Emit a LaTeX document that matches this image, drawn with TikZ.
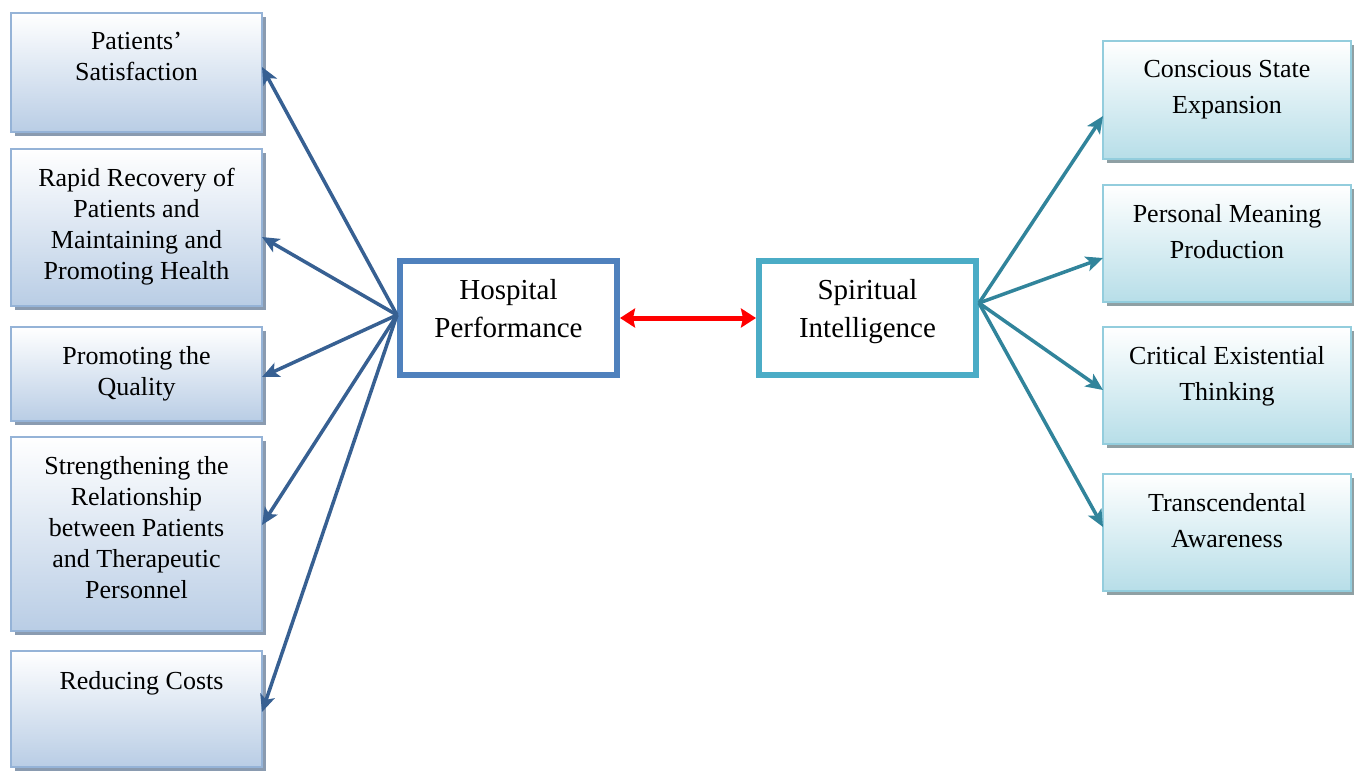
\documentclass[tikz,border=0pt]{standalone}
\usepackage{fontspec}
\setmainfont{Liberation Serif}
\usetikzlibrary{arrows.meta,shadows}
\definecolor{leftbot}{HTML}{B9CDE5}
\definecolor{leftbrd}{HTML}{95B3D7}
\definecolor{leftshd}{HTML}{8A9BB0}
\definecolor{rightbot}{HTML}{B7DEE8}
\definecolor{rightbrd}{HTML}{93CDDD}
\definecolor{rightshd}{HTML}{8FA0A4}
\definecolor{hospbrd}{HTML}{4F81BD}
\definecolor{spirbrd}{HTML}{4BACC6}
\definecolor{leftarr}{HTML}{376092}
\definecolor{rightarr}{HTML}{31849B}
\definecolor{redarr}{HTML}{FF0000}
\begin{document}
\begin{tikzpicture}[x=1pt,y=-1pt,
  lbox/.style={draw=leftbrd, line width=2.5pt, top color=white, bottom color=leftbot,
    minimum width=251pt, anchor=north west, inner sep=0pt, outer sep=0pt,
    drop shadow={shadow xshift=4pt, shadow yshift=-4pt, fill=leftshd, opacity=1}},
  rbox/.style={draw=rightbrd, line width=2.5pt, top color=white, bottom color=rightbot,
    minimum width=248pt, anchor=north west, inner sep=0pt, outer sep=0pt,
    drop shadow={shadow xshift=4pt, shadow yshift=-4pt, fill=rightshd, opacity=1}},
  cbox/.style={line width=6pt, fill=white, minimum width=217pt, minimum height=114pt,
    inner sep=0pt},
  ltxt/.style={font=\fontsize{26}{31}\selectfont, align=center, anchor=north, inner sep=0pt},
  rtxt/.style={font=\fontsize{26}{36}\selectfont, align=center, anchor=north, inner sep=0pt},
  ctxt/.style={font=\fontsize{29}{38}\selectfont, align=center, anchor=north, inner sep=0pt},
  larrow/.style={draw=leftarr, line width=3.5pt, -{Stealth[length=17pt,width=15pt,inset=4pt]}},
  rarrow/.style={draw=rightarr, line width=3.5pt, -{Stealth[length=17pt,width=15pt,inset=4pt]}},
]
\useasboundingbox[fill=white] (0,0) rectangle (1354,772);

% left boxes
\node[lbox, minimum height=119pt] (L1) at (11,13) {};
\node[lbox, minimum height=157pt] (L2) at (11,149) {};
\node[lbox, minimum height=94pt]  (L3) at (11,327) {};
\node[lbox, minimum height=194pt] (L4) at (11,437) {};
\node[lbox, minimum height=116pt] (L5) at (11,651) {};

\node[ltxt, yshift=-19pt] (T1) at (L1.north) {Patients’\\Satisfaction};
\node[ltxt, yshift=-19pt] (T2) at (L2.north) {Rapid Recovery of\\Patients and\\Maintaining and\\Promoting Health};
\node[ltxt, yshift=-19pt] (T3) at (L3.north) {Promoting the\\Quality};
\node[ltxt, yshift=-19pt] (T4) at (L4.north) {Strengthening the\\Relationship\\between Patients\\and Therapeutic\\Personnel};
\node[ltxt, yshift=-20pt, xshift=5pt] (T5) at (L5.north) {Reducing Costs};

% right boxes
\node[rbox, minimum height=118pt] (R1) at (1103,41) {};
\node[rbox, minimum height=117pt] (R2) at (1103,185) {};
\node[rbox, minimum height=117pt] (R3) at (1103,327) {};
\node[rbox, minimum height=117pt] (R4) at (1103,474) {};

\node[rtxt, yshift=-19pt] (S1) at (R1.north) {Conscious State\\Expansion};
\node[rtxt, yshift=-19pt] (S2) at (R2.north) {Personal Meaning\\Production};
\node[rtxt, yshift=-19pt] (S3) at (R3.north) {Critical Existential\\Thinking};
\node[rtxt, yshift=-19pt] (S4) at (R4.north) {Transcendental\\Awareness};

% central boxes
\node[cbox, draw=hospbrd] (H) at (508.5,318) {};
\node[cbox, draw=spirbrd] (S) at (867.5,318) {};
\node[ctxt, yshift=-21pt] (HT) at (H.north) {Hospital\\Performance};
\node[ctxt, yshift=-21pt] (ST) at (S.north) {Spiritual\\Intelligence};

% connectors
\coordinate (HW) at ([yshift=3pt]H.west);
\coordinate (SE) at ([yshift=15pt]S.east);
\draw[larrow] (HW) -- ([yshift=5.5pt]L1.east);
\draw[larrow] (HW) -- ([yshift=-9.5pt]L2.east);
\draw[larrow] (HW) -- ([yshift=-3pt]L3.east);
\draw[larrow] (HW) -- ([yshift=9pt]L4.east);
\draw[larrow] (HW) -- ([yshift=-3pt]L5.east);

\draw[rarrow] (SE) -- ([yshift=-16pt]R1.west);
\draw[rarrow] (SE) -- ([yshift=-14.5pt]R2.west);
\draw[rarrow] (SE) -- ([yshift=-4.5pt]R3.west);
\draw[rarrow] (SE) -- ([yshift=5.5pt]R4.west);

\draw[draw=redarr, line width=5pt, {Stealth[length=15pt,width=19pt,inset=2pt]}-{Stealth[length=15pt,width=19pt,inset=2pt]}] (H.east) -- (S.west);
\end{tikzpicture}
\end{document}
